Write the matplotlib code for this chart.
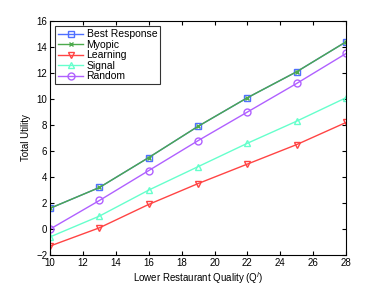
import matplotlib
matplotlib.use("Agg")
import matplotlib.pyplot as plt

x = [10, 13, 16, 19, 22, 25, 28]
best_response = [1.6, 3.2, 5.5, 7.9, 10.1, 12.1, 14.4]
myopic = [1.6, 3.2, 5.5, 7.9, 10.1, 12.1, 14.4]
learning = [-1.3, 0.1, 1.9, 3.5, 5.0, 6.5, 8.2]
signal = [-0.6, 1.0, 3.0, 4.8, 6.6, 8.3, 10.1]
random_ = [0.0, 2.2, 4.5, 6.8, 9.0, 11.2, 13.5]

plt.rcParams['font.family'] = ['Liberation Sans', 'DejaVu Sans']
fig = plt.figure(figsize=(3.82, 2.87), dpi=100)
ax = fig.add_axes([0.131, 0.111, 0.775, 0.816])

ms = 5
ax.plot(x, best_response, color='#4f6fff', marker='s', mfc='none', ms=ms, lw=1, label='Best Response')
ax.plot(x, myopic, color='#4caa4c', marker='x', ms=3.5, lw=1, label='Myopic')
ax.plot(x, learning, color='#ff4444', marker='v', mfc='none', ms=ms, lw=1, label='Learning')
ax.plot(x, signal, color='#66ffcc', marker='^', mfc='none', ms=ms, lw=1, label='Signal')
ax.plot(x, random_, color='#b060ff', marker='o', mfc='none', ms=ms, lw=1, label='Random')

ax.set_xlim(10, 28)
ax.set_ylim(-2, 16)
ax.set_xticks(range(10, 29, 2))
ax.set_yticks(range(-2, 17, 2))
ax.tick_params(direction='in', labelsize=7, length=3, top=True, right=True, pad=2)
ax.set_xlabel('Lower Restaurant Quality (Q$^l$)', fontsize=7, labelpad=2)
ax.set_ylabel('Total Utility', fontsize=7, labelpad=4)
leg = ax.legend(loc='upper left', fontsize=7.5, fancybox=False, edgecolor='black',
                handlelength=2.4, labelspacing=0.05, borderpad=0.3, handletextpad=0.3)
leg.get_frame().set_linewidth(0.8)
fig.savefig('out.png', dpi=100)
